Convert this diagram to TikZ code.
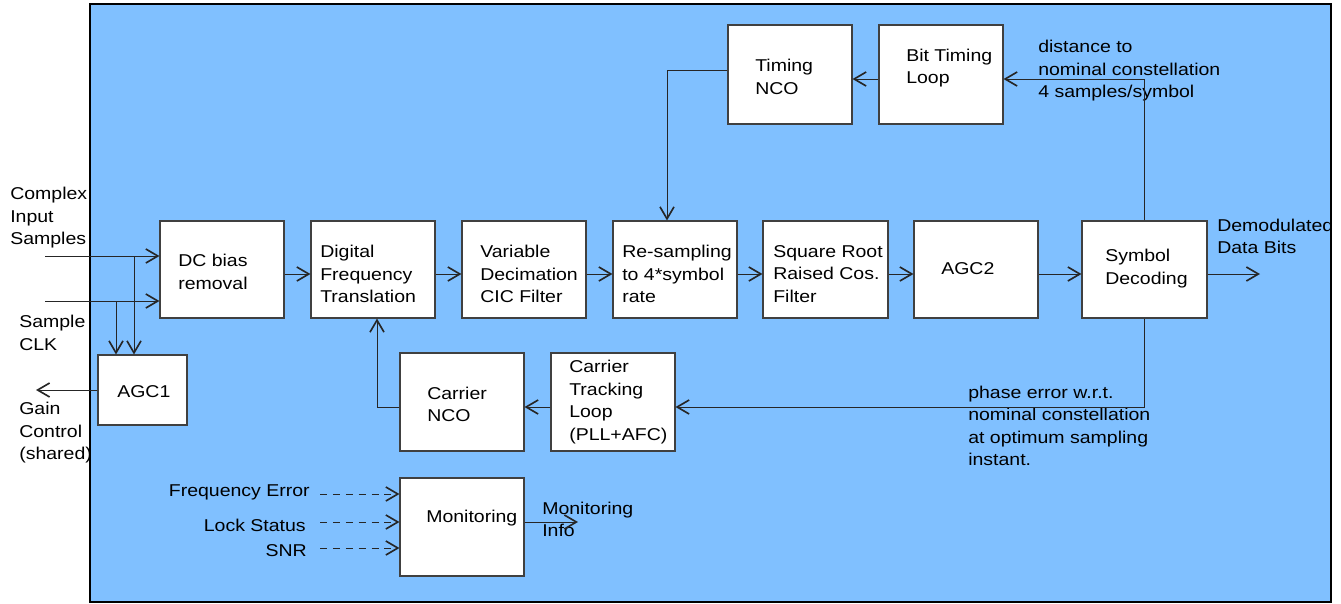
\documentclass[tikz,border=0pt]{standalone}
\usepackage{fontspec}
\setmainfont{Liberation Sans}
\usetikzlibrary{arrows.meta,fit}
\definecolor{bgblue}{RGB}{128,192,255}
\definecolor{boxline}{RGB}{64,64,64}
\newcommand\fs{\fontsize{14.6}{19.2}\selectfont}
\tikzset{
  box/.style={draw=boxline, line width=0.9pt, fill=white, inner sep=0pt},
  txt/.style={font=\fs, align=left, inner sep=0pt, anchor=west, xscale=1.14, transform shape},
  txtr/.style={txt, anchor=east, align=right},
  arr/.style={-{Straight Barb[length=3.6mm,width=4.2mm,line width=1.4pt]}, line width=0.8pt, draw=black!85},
  dsh/.style={arr, dash pattern=on 6pt off 5pt},
}
\begin{document}
\begin{tikzpicture}[x=0.03cm,y=-0.03cm]
\useasboundingbox (0,0) rectangle (1341,603);
\node[draw=black, line width=0.9pt, fill=bgblue, inner sep=0pt, fit={(90,4) (1331,602)}] (bg) {};

% boxes
\node[box, fit={(160,221) (284,318)}] (dc) {};
\node[box, fit={(311,221) (435,318)}] (dft) {};
\node[box, fit={(462,221) (586,318)}] (cic) {};
\node[box, fit={(613,221) (737,318)}] (rs) {};
\node[box, fit={(763,221) (888,318)}] (srrc) {};
\node[box, fit={(914,221) (1038,318)}] (agc2) {};
\node[box, fit={(1082,221) (1207,318)}] (sym) {};
\node[box, fit={(98,355) (187,425)}] (agc1) {};
\node[box, fit={(728,25) (852,124)}] (tnco) {};
\node[box, fit={(879,25) (1003,124)}] (btl) {};
\node[box, fit={(400,353) (524,451)}] (cnco) {};
\node[box, fit={(551,353) (675,451)}] (ctl) {};
\node[box, fit={(400,478) (524,576)}] (mon) {};

% box texts
\node[txt] (tdc) at (178,272) {DC bias\\removal};
\node[txt] (tdft) at (320,274) {Digital\\Frequency\\Translation};
\node[txt] (tcic) at (480,274) {Variable\\Decimation\\CIC Filter};
\node[txt] (trs) at (622,274) {Re-sampling\\to 4*symbol\\rate};
\node[txt] (tsrrc) at (773,274) {Square Root\\Raised Cos.\\Filter};
\node[txt] (tagc2) at (941,269) {AGC2};
\node[txt] (tsym) at (1105,268.5) {Symbol\\Decoding};
\node[txt] (tagc1) at (117,392) {AGC1};
\node[txt] (ttnco) at (755,77) {Timing\\NCO};
\node[txt] (tbtl) at (906,68) {Bit Timing\\Loop};
\node[txt] (tcnco) at (427,404.5) {Carrier\\NCO};
\node[txt] (tctl) at (569,402) {Carrier\\Tracking\\Loop\\(PLL+AFC)};
\node[txt] (tmon) at (426,518) {Monitoring};

% free labels
\node[txt] (lin) at (10,218) {Complex\\Input\\Samples};
\node[txt] (lclk) at (19,333) {Sample\\CLK};
\node[txt] (lgain) at (19,433) {Gain\\Control\\(shared)};
\node[txt] (ldemod) at (1217,236.5) {Demodulated\\Data Bits};
\node[txt] (ldist) at (1038,71) {distance to\\nominal constellation\\4 samples/symbol};
\node[txt] (lphase) at (968,426) {phase error w.r.t.\\nominal constellation\\at optimum sampling\\instant.};
\node[txtr] (lfe) at (310,492) {Frequency Error};
\node[txtr] (lls) at (306,525) {Lock Status};
\node[txtr] (lsnr) at (307,551) {SNR};
\node[txt] (lmi) at (542,519.5) {Monitoring\\Info};

% coordinates
\coordinate (mainrow) at (0,274);
\coordinate (cin) at (45,256);
\coordinate (clk) at (45,301);
\coordinate (j1) at (134,256);
\coordinate (j2) at (116,301);
\coordinate (gout) at (36,390);
\coordinate (tl) at (0,79);
\coordinate (tc) at (667,70);
\coordinate (bl) at (0,407);
\coordinate (cc) at (377,407);
\coordinate (dout) at (1260,274);
\coordinate (fe) at (320,494);
\coordinate (ls) at (320,522);
\coordinate (snr) at (320,548);
\coordinate (mout) at (578,522);

% connectors
\draw[arr] (cin) -- (dc.west |- cin);
\draw[arr] (clk) -- (dc.west |- clk);
\draw[arr] (j1) -- (j1 |- agc1.north);
\draw[arr] (j2) -- (j2 |- agc1.north);
\draw[arr] (agc1.west) -- (gout);
\draw[arr] (dc.east |- mainrow) -- (dft.west |- mainrow);
\draw[arr] (dft.east |- mainrow) -- (cic.west |- mainrow);
\draw[arr] (cic.east |- mainrow) -- (rs.west |- mainrow);
\draw[arr] (rs.east |- mainrow) -- (srrc.west |- mainrow);
\draw[arr] (srrc.east |- mainrow) -- (agc2.west |- mainrow);
\draw[arr] (agc2.east |- mainrow) -- (sym.west |- mainrow);
\draw[arr] (sym.east |- mainrow) -- (dout);
\draw[arr] (sym.north) |- (btl.east |- tl);
\draw[arr] (btl.west |- tl) -- (tnco.east |- tl);
\draw[arr] (tnco.west |- tc) -| (tc |- rs.north);
\draw[arr] (sym.south) |- (ctl.east |- bl);
\draw[arr] (ctl.west |- bl) -- (cnco.east |- bl);
\draw[arr] (cnco.west |- bl) -| (cc |- dft.south);
\draw[dsh] (fe) -- (mon.west |- fe);
\draw[dsh] (ls) -- (mon.west |- ls);
\draw[dsh] (snr) -- (mon.west |- snr);
\draw[arr] (mon.east |- mout) -- (mout);
\end{tikzpicture}
\end{document}
